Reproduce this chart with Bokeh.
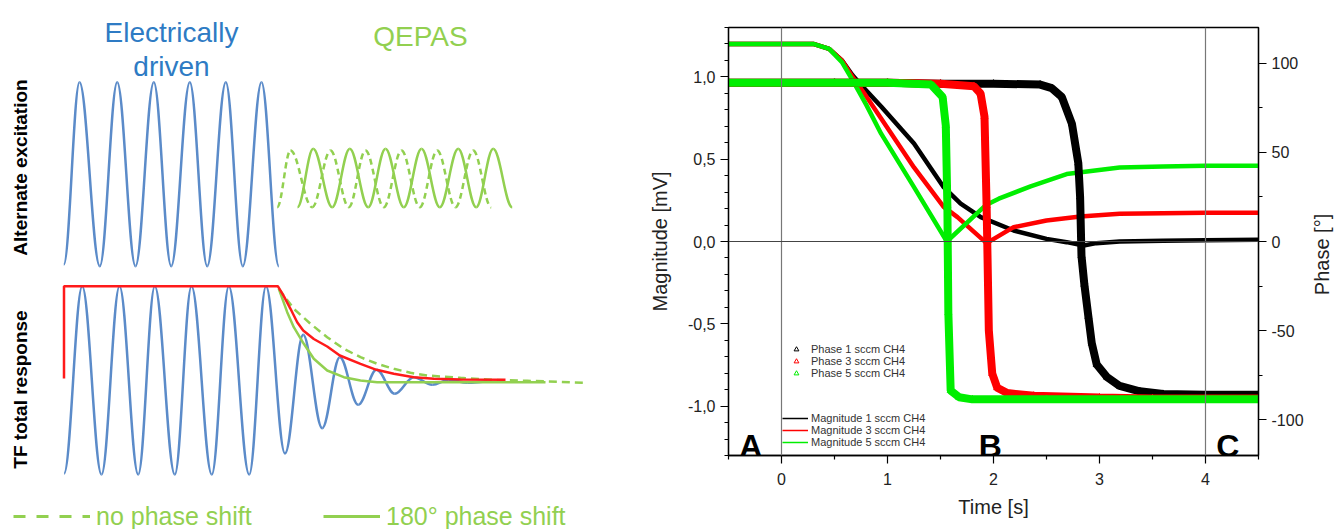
import numpy as np
from bokeh.plotting import figure
from bokeh.layouts import row
from bokeh.models import (Range1d, LinearAxis, FixedTicker, CustomJSTickFormatter, Span,
                          Label, Legend, LegendItem, ColumnDataSource)
from bokeh.embed import file_html
from bokeh.resources import INLINE

FONT = "Liberation Sans"

# ---------------- Left schematic: extrema of the drawn waves (drawing units) ----------------
drive_x = [63.3, 79.0, 99.3, 116.7, 135.0, 153.3, 170.7, 189.3, 206.7, 225.3, 242.3, 261.0, 278.3]
drive_y = [264.0, 81.7, 265.7, 81.7, 265.7, 81.7, 265.7, 81.7, 265.7, 81.7, 265.7, 81.7, 265.7]

qepas_solid_x = [297.0, 312.7, 331.7, 349.3, 367.7, 385.0, 403.3, 421.0, 439.3, 457.7, 475.7, 492.7, 511.7]
qepas_solid_y = [206.7, 148.3, 206.7, 148.3, 206.7, 148.3, 206.7, 148.3, 206.7, 148.3, 206.7, 148.3, 206.7]
qepas_dash_x = [276.7, 290.0, 311.7, 330.0, 348.3, 365.0, 383.3, 401.0, 419.3, 436.7, 455.0, 472.7, 490.7]
qepas_dash_y = [206.7, 150.0, 206.7, 150.0, 206.7, 150.0, 206.7, 150.0, 206.7, 150.0, 206.7, 150.0, 206.7]

resp_x = [63.6, 81.7, 101.0, 119.0, 137.7, 154.3, 174.3, 191.0, 211.3, 228.3, 248.7, 265.5,
          284.5, 302.7, 321.7, 339.3, 357.7, 376.0, 394.3, 413.3, 431.7, 448.3, 466.7, 486.7]
resp_y = [473.0, 285.7, 474.0, 285.7, 474.0, 285.7, 474.0, 285.7, 474.0, 285.7, 474.0, 285.7,
          453.0, 334.3, 427.7, 356.7, 404.3, 369.3, 393.3, 376.7, 384.3, 379.3, 382.3, 381.0]

envelope_x = [63.5, 63.5, 277.3, 283.3, 290.0, 296.7, 302.7, 313.3, 326.7, 339.3, 360.0, 376.0,
              393.3, 413.3, 433.3, 460.0, 505.0]
envelope_y = [378.0, 285.7, 285.7, 295.7, 308.3, 321.7, 330.0, 338.5, 346.0, 355.0, 363.3, 369.3,
              373.3, 376.7, 378.3, 379.0, 379.3]

decay180_x = [278.3, 286.7, 293.3, 303.3, 313.3, 326.7, 343.3, 360.0, 376.7, 545.0]
decay180_y = [288.3, 311.7, 326.7, 343.3, 358.3, 370.0, 376.7, 380.0, 381.7, 381.7]

decay0_x = [278.3, 293.3, 310.0, 326.7, 343.3, 360.0, 376.7, 393.3, 410.0, 426.7, 460.0, 493.3, 526.7, 586.7]
decay0_y = [288.3, 308.3, 323.3, 336.7, 348.3, 356.7, 363.3, 368.3, 372.3, 375.0, 377.3, 379.3, 380.3, 382.3]

# ---------------- Right chart data ----------------
t_mag1 = [-0.5, 0.3, 0.45, 0.57, 0.67, 0.78, 0.94, 1.25, 1.53, 1.69, 1.88, 2.19, 2.5, 2.69, 2.85, 2.97, 3.19, 3.6, 4.0, 4.5]
mag1 = [1.20, 1.20, 1.17, 1.10, 1.01, 0.93, 0.82, 0.595, 0.33, 0.23, 0.148, 0.067, 0.016, -0.004, -0.024, -0.01, 0.0, 0.005, 0.008, 0.01]

t_mag3 = [-0.5, 0.3, 0.45, 0.57, 0.67, 0.78, 0.94, 1.25, 1.53, 1.66, 1.935, 2.19, 2.5, 2.82, 3.19, 3.6, 4.0, 4.5]
mag3 = [1.20, 1.20, 1.17, 1.10, 1.00, 0.90, 0.747, 0.45, 0.21, 0.148, -0.01, 0.087, 0.128, 0.152, 0.168, 0.172, 0.175, 0.175]

t_mag5 = [-0.5, 0.3, 0.45, 0.57, 0.67, 0.8, 0.94, 1.25, 1.56, 1.925, 2.05, 2.35, 2.69, 3.19, 3.6, 4.0, 4.5]
mag5 = [1.20, 1.20, 1.17, 1.09, 0.98, 0.83, 0.655, 0.33, 0.0, 0.22, 0.26, 0.335, 0.41, 0.45, 0.455, 0.46, 0.46]

t_ph1 = [-0.5, 0.0, 0.5, 1.0, 1.5, 2.0, 2.44, 2.55, 2.645, 2.74, 2.80, 2.817, 2.83, 2.857, 2.895, 2.927,
         2.974, 3.07, 3.19, 3.38, 3.6, 4.0, 4.5]
ph1 = [89, 89, 89, 89, 88.5, 88.5, 88, 86, 81, 66, 44, 25, -8, -24, -42, -57, -69, -76, -81, -84, -85.5, -86, -86]

t_ph3 = [-0.5, 0.0, 0.5, 1.0, 1.5, 1.815, 1.878, 1.915, 1.935, 1.956, 1.988, 2.035, 2.13, 2.38, 3.0, 3.5, 4.0, 4.5]
ph3 = [89, 89, 89, 89, 88.5, 87, 83, 70, 20, -50, -74, -82, -85, -86.5, -87.5, -88, -88, -88]

t_ph5 = [-0.5, 0.0, 0.5, 1.0, 1.41, 1.52, 1.55, 1.565, 1.574, 1.596, 1.675, 1.8, 2.5, 3.5, 4.5]
ph5 = [89, 89, 89, 89, 88, 81, 65, 20, -40, -83.6, -87.3, -88.5, -88.5, -88.5, -88.5]

time_ticks = [0, 1, 2, 3, 4]
time_minor = [-0.5, 0.5, 1.5, 2.5, 3.5, 4.5]
mag_ticks = [-1.0, -0.5, 0.0, 0.5, 1.0]
mag_minor = [round(-1.3 + 0.1 * i, 1) for i in range(27)]
phase_ticks = [-100, -50, 0, 50, 100]
phase_minor = [-125, -75, -25, 25, 75, 125]

series_names = ["1 sccm CH4", "3 sccm CH4", "5 sccm CH4"]

BLUE_TXT = "#2e7bc4"
BLUE = "#5b8bc9"
GREEN = "#92d050"
RED = "#ff1a1a"
C_BLACK, C_RED, C_GREEN = "#000000", "#ff0000", "#00ee00"

W_LEFT = 630
W_RIGHT = 680
W_TITLE = 30
H = 529

# ---------------- Left figure ----------------
left = figure(width=W_LEFT, height=H, x_range=Range1d(0, W_LEFT), y_range=Range1d(H, 0),
              x_axis_location=None, y_axis_location=None, min_border=0,
              output_backend="svg", toolbar_location=None, outline_line_color=None)
left.grid.visible = False
left.frame_align = False

K = 0.364


def wave(p, xs, ys, **kw):
    x0 = np.array(xs[:-1]); x1 = np.array(xs[1:])
    y0 = np.array(ys[:-1]); y1 = np.array(ys[1:])
    d = x1 - x0
    src = ColumnDataSource(dict(x0=x0, y0=y0, x1=x1, y1=y1,
                                cx0=x0 + K * d, cy0=y0, cx1=x1 - K * d, cy1=y1))
    return p.bezier(x0="x0", y0="y0", x1="x1", y1="y1", cx0="cx0", cy0="cy0",
                    cx1="cx1", cy1="cy1", source=src, **kw)


wave(left, drive_x, drive_y, line_color=BLUE, line_width=2.5)
wave(left, qepas_dash_x, qepas_dash_y, line_color=GREEN, line_width=2.5, line_dash="6 4")
wave(left, qepas_solid_x, qepas_solid_y, line_color=GREEN, line_width=2.5)
wave(left, resp_x, resp_y, line_color=BLUE, line_width=2.5)
left.line(decay0_x, decay0_y, line_color=GREEN, line_width=2.5, line_dash="8 5")
left.line(decay180_x, decay180_y, line_color=GREEN, line_width=2.5)
left.line(envelope_x, envelope_y, line_color=RED, line_width=2.5)

for txt, x, y, col in [("Electrically", 171, 32, BLUE_TXT), ("driven", 171, 66, BLUE_TXT),
                       ("QEPAS", 420, 36, GREEN)]:
    left.add_layout(Label(x=x, y=y, text=txt, text_align="center", text_baseline="alphabetic",
                          text_font=FONT, text_font_size="28px", text_color=col))

for txt, y in [("Alternate excitation", 167), ("TF total response", 389)]:
    left.add_layout(Label(x=20, y=y, text=txt, angle=np.pi / 2, text_align="center",
                          text_baseline="middle", text_font=FONT, text_font_size="19px",
                          text_font_style="bold", text_color="black"))

proxy_dash = left.line(x=[np.nan], y=[np.nan], line_color=GREEN, line_width=3, line_dash="12 11")
proxy_solid = left.line(x=[np.nan], y=[np.nan], line_color=GREEN, line_width=3)
for lbl, rend, gw, loc in [("no phase shift", proxy_dash, 77, (13, -5)),
                           ("180° phase shift", proxy_solid, 57, (323, -5))]:
    lg = Legend(items=[LegendItem(label=lbl, renderers=[rend])], location=loc,
                glyph_width=gw, glyph_height=36, label_height=36, label_standoff=6,
                label_text_font=FONT, label_text_font_size="25px", label_text_color=GREEN,
                label_text_baseline="alphabetic", background_fill_alpha=0, border_line_alpha=0,
                padding=0, margin=0, spacing=0)
    left.add_layout(lg)

# ---------------- Right figure ----------------
right = figure(width=W_RIGHT, height=H, x_range=Range1d(-0.5, 4.5), y_range=Range1d(-1.3, 1.3),
               min_border_left=98, min_border_right=52, min_border_top=27, min_border_bottom=74,
               output_backend="svg", toolbar_location=None)
right.frame_align = False
right.extra_y_ranges = {"phase": Range1d(-120, 120)}
right.grid.visible = False
right.outline_line_color = "black"
right.outline_line_width = 1.3


def style_axis(ax, standoff):
    ax.axis_line_color = "black"
    ax.axis_line_width = 1.3
    ax.major_tick_line_color = "black"
    ax.minor_tick_line_color = "black"
    ax.major_tick_line_width = 1.2
    ax.minor_tick_line_width = 1.2
    ax.major_tick_in = 0
    ax.major_tick_out = 8
    ax.minor_tick_in = 0
    ax.minor_tick_out = 4
    ax.major_label_text_font = FONT
    ax.major_label_text_font_size = "16px"
    ax.major_label_text_color = "#222222"
    ax.axis_label_text_font = FONT
    ax.axis_label_text_font_size = "20px"
    ax.axis_label_text_font_style = "normal"
    ax.axis_label_text_color = "#222222"
    ax.axis_label_standoff = standoff


xax = right.xaxis[0]
xax.ticker = FixedTicker(ticks=time_ticks, minor_ticks=time_minor)
xax.axis_label = "Time [s]"
style_axis(xax, 8)
xax.major_label_standoff = 9

yax = right.yaxis[0]
yax.ticker = FixedTicker(ticks=mag_ticks, minor_ticks=mag_minor)
yax.formatter = CustomJSTickFormatter(code="return tick.toFixed(1).replace('.', ',');")
yax.axis_label = "Magnitude [mV]"
style_axis(yax, 14)

pax = LinearAxis(y_range_name="phase",
                 ticker=FixedTicker(ticks=phase_ticks, minor_ticks=phase_minor),
                 formatter=CustomJSTickFormatter(code="return tick.toFixed(0);"))
style_axis(pax, 6)
right.add_layout(pax, "right")

right.add_layout(Span(location=0, dimension="height", line_color="#777777", line_width=1.2))
right.add_layout(Span(location=4, dimension="height", line_color="#777777", line_width=1.2))
right.add_layout(Span(location=0, dimension="width", line_color="#444444", line_width=1))

cols = [C_BLACK, C_RED, C_GREEN]
for t, v, c in zip([t_mag1, t_mag3, t_mag5], [mag1, mag3, mag5], cols):
    right.line(t, v, line_color=c, line_width=4.5)

ph_scatters = []
for t, v, c in zip([t_ph1, t_ph3, t_ph5], [ph1, ph3, ph5], cols):
    right.line(t, v, line_color=c, line_width=8, y_range_name="phase")
    s = right.scatter(t, v, marker="triangle", size=7, line_color=c, fill_color=None,
                      line_width=1, y_range_name="phase")
    ph_scatters.append(s)

for txt, x in [("A", -0.29), ("B", 1.97), ("C", 4.21)]:
    right.add_layout(Label(x=x, y=-1.24, text=txt, text_align="center", text_baseline="alphabetic",
                           text_font=FONT, text_font_size="32px", text_font_style="bold",
                           text_color="black"))

mag_proxies = [right.line(x=[np.nan], y=[np.nan], line_color=c, line_width=1.5) for c in cols]

leg_common = dict(glyph_height=12, label_height=12, spacing=0, padding=0, margin=0,
                  label_text_font=FONT, label_text_font_size="11px", label_text_color="#333333",
                  background_fill_alpha=0, border_line_alpha=0)
right.add_layout(Legend(items=[LegendItem(label="Phase " + n, renderers=[s])
                               for n, s in zip(series_names, ph_scatters)],
                        location=(58, 76), glyph_width=20, label_standoff=5, **leg_common))
right.add_layout(Legend(items=[LegendItem(label="Magnitude " + n, renderers=[r])
                               for n, r in zip(series_names, mag_proxies)],
                        location=(54, 7), glyph_width=26, label_standoff=3, **leg_common))

# ---------------- Narrow strip holding the right-axis title (reads bottom-to-top) ----------------
x0_strip = W_LEFT + W_RIGHT
strip = figure(width=W_TITLE, height=H, x_range=Range1d(x0_strip, x0_strip + W_TITLE),
               y_range=Range1d(H, 0), x_axis_location=None, y_axis_location=None, min_border=0,
               output_backend="svg", toolbar_location=None, outline_line_color=None)
strip.grid.visible = False
strip.frame_align = False
strip.add_layout(Label(x=1321, y=254, text="Phase [°]", angle=np.pi / 2, text_align="center",
                       text_baseline="middle", text_font=FONT, text_font_size="20px",
                       text_color="#222222"))

layout = row(left, right, strip)
open("out.html", "w").write(file_html(layout, INLINE))
